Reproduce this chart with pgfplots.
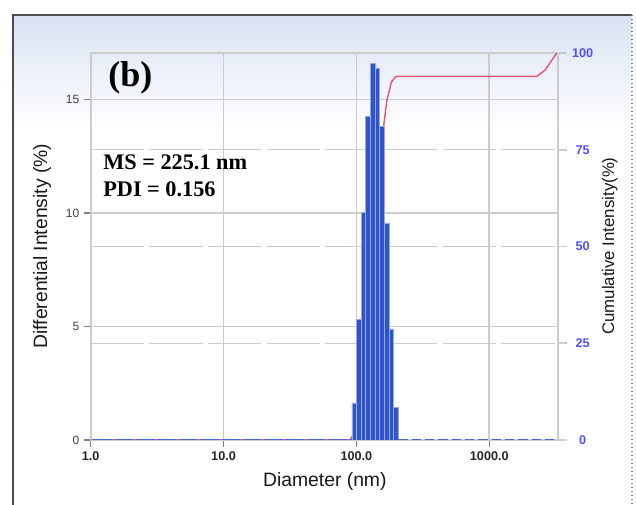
\documentclass[border=0pt]{standalone}
\usepackage{fontspec}
\setmainfont{Liberation Sans}
\newfontfamily\timesb{Liberation Serif}
\usepackage{pgfplots}
\pgfplotsset{compat=1.18}
\definecolor{barblue}{RGB}{48,84,204}
\definecolor{barsep}{RGB}{150,168,230}
\definecolor{cumred}{RGB}{226,92,118}
\definecolor{gridc}{RGB}{204,204,204}
\definecolor{rtick}{RGB}{80,80,255}
\definecolor{topblue}{RGB}{217,226,243}
\definecolor{baseblue}{RGB}{70,100,220}
\begin{document}
\begin{tikzpicture}
\begin{scope}[x=0.75pt,y=0.75pt]
\path[use as bounding box] (0,0) rectangle (636,505);
\fill[white] (0,0) rectangle (636,505);
\shade[top color=topblue,bottom color=white] (13,375) rectangle (632,490);
\draw[black!70, line width=0.8pt] (13,0) -- (13,490) -- (632,490);
\draw[gray, dotted, line width=1pt] (632,490) -- (632,0);
\end{scope}
\begin{axis}[
  at={(68.0pt,48.75pt)}, anchor=south west,
  scale only axis, width=350.5pt, height=290.25pt,
  xmode=log, xmin=1, xmax=3290, ymin=0, ymax=17.05,
  xtick={1,10,100,1000}, xticklabels={1.0,10.0,100.0,1000.0},
  xminorticks=false,
  ytick={0,5,10,15},
  xtick pos=bottom, ytick pos=left,
  axis line style={gridc, line width=1.3pt},
  grid=major, major grid style={gridc, line width=1.2pt},
  extra y ticks={4.2625,8.525,12.7875}, extra y tick labels={},
  extra y tick style={major tick length=0pt, grid=major, major grid style={gridc, line width=1.1pt, dash pattern=on 40pt off 4pt}},
  tick style={gray, line width=0.8pt}, tick align=outside, major tick length=5pt,
  yticklabel style={font=\fontsize{9}{10}\selectfont, text=black!75},
  xticklabel style={font=\bfseries\fontsize{9.5}{10}\selectfont, text=black!85},
  /pgf/number format/assume math mode=true,
  xlabel={Diameter (nm)}, ylabel={Differential Intensity (\%)},
  label style={font=\fontsize{14.5}{16}\selectfont, text=black!90},
  xlabel style={at={(axis description cs:0.501,-0.1085)}, anchor=center},
  ylabel style={at={(axis description cs:-0.104,0.501)}, anchor=center},
]
% cumulative intensity (%), drawn on the right-axis scale (0-100 -> 0-17.05)
\addplot[cumred, line width=1.1pt, y filter/.expression={y*17.05/100}] coordinates {
 (89.5,0) (96.1,1.63) (104.2,6.96) (113.0,17.0) (122.5,31.27) (132.9,47.87)
 (143.9,64.24) (156.2,78.07) (169.3,87.63) (183.5,92.52) (199.0,93.97)
 (2281,93.97) (2637,95.6) (2960,98.2) (3230,100)};
\addplot[ybar interval, fill=barblue, draw=barsep, line width=0.5pt] coordinates {
 (92.4,1.63) (100.1,5.33) (108.6,10.04) (117.7,14.27) (127.6,16.6)
 (138.4,16.37) (150.0,13.83) (162.6,9.56) (176.3,4.89) (191.2,1.45) (207.3,0)};
\addplot[baseblue, line width=1pt] coordinates {(1,0) (92.4,0)};
\addplot[baseblue, line width=1pt, dash pattern=on 7pt off 3pt] coordinates {(207.3,0) (3290,0)};
\addplot[cumred, line width=0.9pt, dash pattern=on 2pt off 14pt] coordinates {(1,0) (89.5,0)};
\node[anchor=west, font=\timesb\bfseries\fontsize{27}{30}\selectfont] at (axis description cs:0.028,0.937) {(b)};
\node[anchor=west, font=\timesb\bfseries\fontsize{16.7}{18}\selectfont] at (axis description cs:0.017,0.717) {MS = 225.1 nm};
\node[anchor=west, font=\timesb\bfseries\fontsize{16.7}{18}\selectfont] at (axis description cs:0.017,0.648) {PDI = 0.156};
\end{axis}
\begin{axis}[
  at={(68.0pt,48.75pt)}, anchor=south west,
  scale only axis, width=350.5pt, height=290.25pt,
  xmode=log, xmin=1, xmax=3290, ymin=0, ymax=100,
  axis x line=none, axis y line*=right,
  ytick={0,25,50,75,100},
  axis line style={gridc, line width=1.3pt},
  tick style={gridc, line width=1.2pt}, tick align=outside, major tick length=7pt,
  yticklabel style={font=\bfseries\fontsize{9.5}{10}\selectfont, text=rtick, text width=16pt, align=center},
  /pgf/number format/assume math mode=true,
  ylabel={Cumulative Intensity(\%)},
  ylabel style={at={(axis description cs:1.111,0.501)}, anchor=center, font=\fontsize{12.6}{14}\selectfont, text=black!90},
]
\end{axis}
\end{tikzpicture}
\end{document}
